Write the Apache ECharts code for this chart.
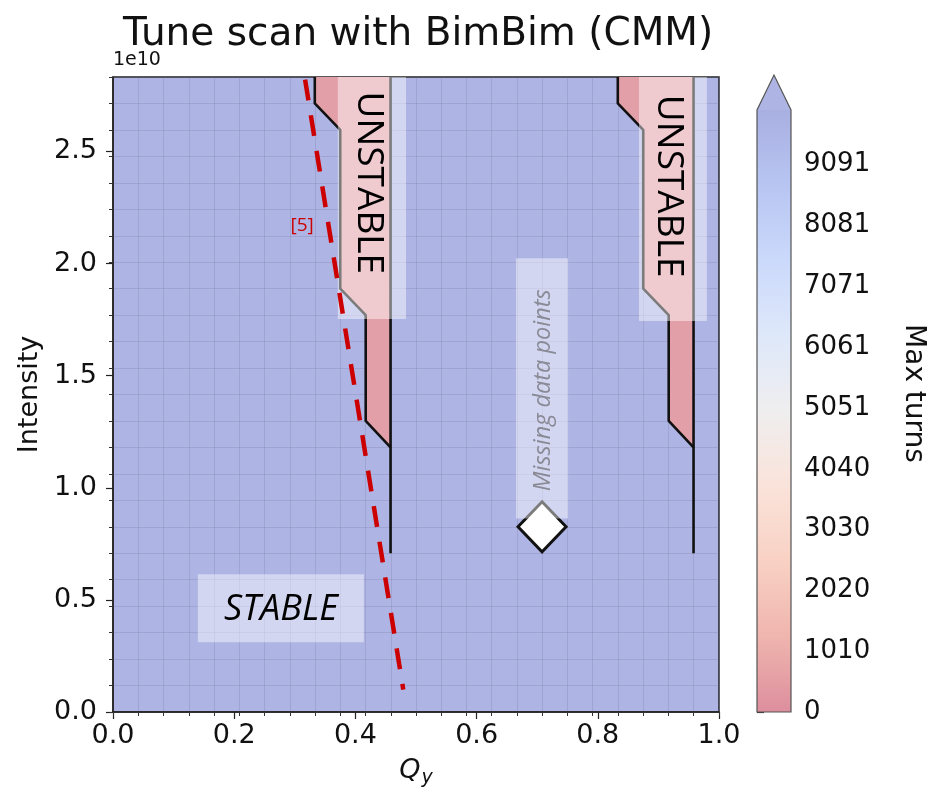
<!DOCTYPE html>
<html>
<head>
<meta charset="utf-8">
<title>Tune scan with BimBim (CMM)</title>
<script src="https://cdn.jsdelivr.net/npm/echarts@6/dist/echarts.min.js"></script>
<style>
html, body { margin: 0; padding: 0; background: #fff; }
#chart { width: 935px; height: 804px; }
</style>
</head>
<body>
<div id="chart"></div>
<script>
// scan grid steps (Qy, intensity)
var qyStep = 1 / 24;
var intensityStep = 1.18e9;
var intensityMax = 24 * intensityStep;

// unstable islands, contourf boundary as [Qy, intensity]
var unstableLeft = [[0.333, 2.832e10], [0.333, 2.714e10], [0.375, 2.596e10], [0.375, 1.888e10],
    [0.417, 1.770e10], [0.417, 1.298e10], [0.458, 1.180e10], [0.458, 2.832e10]];
var unstableRight = [[0.833, 2.832e10], [0.833, 2.714e10], [0.875, 2.596e10], [0.875, 1.888e10],
    [0.917, 1.770e10], [0.917, 1.298e10], [0.958, 1.180e10], [0.958, 2.832e10]];
var unstableRegions = [unstableLeft, unstableRight];

// black contour lines
var contourLines = [
    [[0.333, 2.832e10], [0.333, 2.714e10], [0.375, 2.596e10], [0.375, 1.888e10], [0.417, 1.770e10], [0.417, 1.298e10], [0.458, 1.180e10]],
    [[0.458, 2.832e10], [0.458, 0.708e10]],
    [[0.833, 2.832e10], [0.833, 2.714e10], [0.875, 2.596e10], [0.875, 1.888e10], [0.917, 1.770e10], [0.917, 1.298e10], [0.958, 1.180e10]],
    [[0.958, 2.832e10], [0.958, 0.708e10]]
];

// missing scan point
var missingPoints = [[0.708, 0.826e10]];

// reference [5] threshold line
var refLine = [[0.317, 2.82e10], [0.479, 0.10e10]];

// axis ticks
var xTicks = [0, 0.2, 0.4, 0.6, 0.8, 1.0];
var yTicks = [0, 0.5e10, 1.0e10, 1.5e10, 2.0e10, 2.5e10];
var cbTicks = [0, 1010, 2020, 3030, 4040, 5051, 6061, 7071, 8081, 9091];
var cbRange = [0, 10000];
var cbExtendTo = 10580;

// annotations: box [q0, i0, q1, i1] (or null), anchor [Qy, intensity]
var noteTexts = ['STABLE', 'UNSTABLE', 'UNSTABLE', 'Missing data points', '[5]'];
var noteBoxes = [[0.140, 0.614e10, 0.414, 0.311e10], [0.371, 2.832e10, 0.4835, 1.753e10],
    [0.868, 2.832e10, 0.980, 1.744e10], [0.665, 2.024e10, 0.751, 0.863e10], null];
var noteAnchors = [[0.277, 0.455e10], [0.421, 2.36e10], [0.916, 2.345e10], [0.7096, 1.435e10], [0.312, 2.171e10]];

var noteStyles = [
    { size: 36, italic: true, color: '#000', rot: 0 },
    { size: 37, italic: false, color: '#000', rot: -Math.PI / 2 },
    { size: 37, italic: false, color: '#000', rot: -Math.PI / 2 },
    { size: 23.5, italic: true, color: '#8a8a96', rot: Math.PI / 2 },
    { size: 19, italic: false, color: '#cc0000', rot: 0 }
];

var font = 'DejaVu Sans';
var bgBlue = '#aeb4e3';
var cbStops = [
    { offset: 0, color: '#dd8e9d' }, { offset: 0.125, color: '#efb5ae' },
    { offset: 0.25, color: '#f9d1c4' }, { offset: 0.375, color: '#fae3da' },
    { offset: 0.5, color: '#efeeef' }, { offset: 0.625, color: '#dee8fa' },
    { offset: 0.75, color: '#cbd9fb' }, { offset: 0.875, color: '#b8c5f2' },
    { offset: 1, color: '#a8afe1' }
];

var chart = echarts.init(document.getElementById('chart'));

var series = [];

series.push({
    name: 'unstable',
    type: 'custom',
    xAxisIndex: 0,
    yAxisIndex: 0,
    z: 2,
    silent: true,
    data: unstableRegions.map(function(r) { return r[0]; }),
    renderItem: function(params, api) {
        var pts = unstableRegions[params.dataIndex].map(function(p) { return api.coord(p); });
        return { type: 'polygon', shape: { points: pts }, style: { fill: '#e29fa8' } };
    }
});

contourLines.forEach(function(line) {
    series.push({
        type: 'line',
        xAxisIndex: 0,
        yAxisIndex: 0,
        z: 3,
        silent: true,
        symbol: 'none',
        data: line,
        lineStyle: { color: '#111', width: 2.6 }
    });
});

series.push({
    name: 'missing',
    type: 'scatter',
    xAxisIndex: 0,
    yAxisIndex: 0,
    z: 4,
    silent: true,
    symbol: 'diamond',
    symbolSize: [48, 50],
    data: missingPoints,
    itemStyle: { color: '#fff', borderColor: '#111', borderWidth: 3, opacity: 1 }
});

series.push({
    name: 'notes',
    type: 'custom',
    xAxisIndex: 0,
    yAxisIndex: 0,
    z: 5,
    silent: true,
    data: noteAnchors,
    renderItem: function(params, api) {
        var i = params.dataIndex;
        var st = noteStyles[i];
        var children = [];
        var b = noteBoxes[i];
        if (b) {
            var p0 = api.coord([b[0], b[1]]);
            var p1 = api.coord([b[2], b[3]]);
            children.push({
                type: 'rect',
                shape: { x: Math.min(p0[0], p1[0]), y: Math.min(p0[1], p1[1]),
                    width: Math.abs(p1[0] - p0[0]), height: Math.abs(p1[1] - p0[1]) },
                style: { fill: 'rgba(255,255,255,0.45)' }
            });
        }
        var a = api.coord(noteAnchors[i]);
        children.push({
            type: 'text',
            x: a[0],
            y: a[1],
            rotation: st.rot,
            style: {
                text: noteTexts[i],
                fontFamily: 'Open Sans',
                fontSize: st.size,
                fontStyle: st.italic ? 'italic' : 'normal',
                fill: st.color,
                align: 'center',
                verticalAlign: 'middle'
            }
        });
        return { type: 'group', children: children };
    }
});

series.push({
    name: '[5]',
    type: 'line',
    xAxisIndex: 0,
    yAxisIndex: 0,
    z: 6,
    silent: true,
    symbol: 'none',
    data: refLine,
    lineStyle: { color: '#cc0000', width: 4.5, type: [21, 15] }
});

// colorbar
series.push({
    name: 'colorbar',
    type: 'custom',
    xAxisIndex: 2,
    yAxisIndex: 2,
    silent: true,
    data: [[0, cbRange[0], cbRange[1], cbExtendTo]],
    renderItem: function(params, api) {
        var cs = params.coordSys;
        var x0 = cs.x, w = cs.width;
        var yb = api.coord([0, api.value(1)])[1];
        var yt = api.coord([0, api.value(2)])[1];
        var ytip = api.coord([0, api.value(3)])[1];
        return {
            type: 'group',
            children: [{
                type: 'rect',
                shape: { x: x0, y: yt, width: w, height: yb - yt },
                style: { fill: { type: 'linear', x: 0, y: 1, x2: 0, y2: 0, colorStops: cbStops } }
            }, {
                type: 'polygon',
                shape: { points: [[x0, yt], [x0 + w / 2, ytip], [x0 + w, yt]] },
                style: { fill: bgBlue }
            }, {
                type: 'polygon',
                shape: { points: [[x0, yb], [x0 + w, yb], [x0 + w, yt], [x0 + w / 2, ytip], [x0, yt]] },
                style: { fill: 'none', stroke: '#555', lineWidth: 1.2 }
            }]
        };
    }
});

var option = {
    backgroundColor: '#fff',
    animation: false,
    title: {
        text: 'Tune scan with BimBim (CMM)',
        left: 118,
        top: 10,
        textStyle: { fontFamily: font, fontSize: 39, fontWeight: 'normal', color: '#111' }
    },
    grid: [{
        left: 113,
        top: 77,
        width: 606,
        height: 635,
        show: true,
        backgroundColor: bgBlue,
        borderColor: '#222',
        borderWidth: 1.5,
        z: 0
    }, {
        left: 757,
        top: 75,
        width: 34,
        height: 637
    }],
    xAxis: [{
        gridIndex: 0,
        type: 'value',
        min: 0,
        max: 1,
        interval: 0.2,
        position: 'bottom',
        axisLine: { show: true, lineStyle: { color: '#222', width: 1.5 } },
        axisTick: { show: true, length: 7, lineStyle: { color: '#222', width: 1.2 } },
        axisLabel: {
            customValues: xTicks,
            fontFamily: font, fontSize: 27, color: '#111', margin: 10,
            formatter: function(v) { return v.toFixed(1); }
        },
        splitLine: { show: false },
        name: '{q|Q}{s|y}',
        nameLocation: 'middle',
        nameGap: 42,
        nameTextStyle: {
            rich: {
                q: { fontFamily: font, fontSize: 27, fontStyle: 'italic', color: '#111', lineHeight: 34 },
                s: { fontFamily: font, fontSize: 19, fontStyle: 'italic', color: '#111', lineHeight: 19,
                    verticalAlign: 'bottom', padding: [14, 0, 0, 1] }
            }
        }
    }, {
        gridIndex: 0,
        type: 'value',
        min: 0,
        max: 1,
        interval: qyStep,
        position: 'bottom',
        axisLine: { show: false },
        axisTick: { show: true, length: 4, lineStyle: { color: '#333', width: 1 } },
        axisLabel: { show: false },
        splitLine: { show: true, lineStyle: { color: 'rgba(110,110,140,0.22)', width: 1 } }
    }, {
        gridIndex: 1,
        type: 'value',
        min: 0,
        max: 1,
        show: false
    }],
    yAxis: [{
        gridIndex: 0,
        type: 'value',
        min: 0,
        max: intensityMax,
        interval: 0.5e10,
        position: 'left',
        axisLine: { show: true, lineStyle: { color: '#222', width: 1.5 } },
        axisTick: { show: true, length: 7, customValues: yTicks, lineStyle: { color: '#222', width: 1.2 } },
        axisLabel: {
            customValues: yTicks,
            fontFamily: font, fontSize: 27, color: '#111', margin: 16,
            formatter: function(v) { return (v / 1e10).toFixed(1); }
        },
        splitLine: { show: false },
        name: 'Intensity',
        nameLocation: 'middle',
        nameGap: 70,
        nameTextStyle: { fontFamily: font, fontSize: 27, color: '#111' }
    }, {
        gridIndex: 0,
        type: 'value',
        min: 0,
        max: intensityMax,
        interval: intensityStep,
        position: 'left',
        axisLine: { show: false },
        axisTick: { show: true, length: 4, lineStyle: { color: '#333', width: 1 } },
        axisLabel: { show: false },
        splitLine: { show: true, lineStyle: { color: 'rgba(110,110,140,0.22)', width: 1 } },
        name: '1e10',
        nameLocation: 'end',
        nameGap: 7,
        nameTextStyle: { fontFamily: font, fontSize: 19, color: '#111', align: 'left', verticalAlign: 'bottom' }
    }, {
        gridIndex: 1,
        type: 'value',
        min: 0,
        max: cbExtendTo,
        position: 'right',
        axisLine: { show: false },
        axisTick: { show: true, length: 7, customValues: cbTicks, lineStyle: { color: '#333', width: 1.2 } },
        axisLabel: {
            customValues: cbTicks,
            fontFamily: font, fontSize: 26, color: '#111', margin: 13,
            formatter: function(v) { return String(v); }
        },
        splitLine: { show: false },
        name: 'Max turns',
        nameLocation: 'middle',
        nameRotate: -90,
        nameGap: 108,
        nameTextStyle: { fontFamily: font, fontSize: 28, color: '#111' }
    }],
    series: series
};

chart.setOption(option);
</script>
</body>
</html>
